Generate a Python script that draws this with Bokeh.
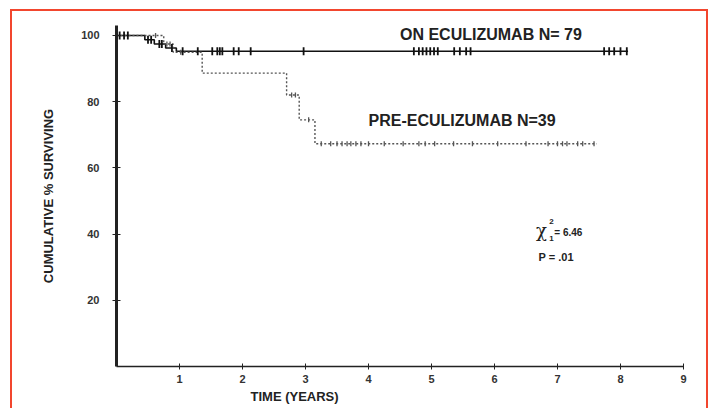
import numpy as np
from bokeh.plotting import figure
from bokeh.models import Range1d, FixedTicker, Label, Title, ColumnDataSource
from bokeh.embed import file_html
from bokeh.resources import INLINE

# ---- data ----
on_times = [0.0, 0.45, 0.60, 0.78, 0.95, 8.12]
on_surv = [100.0, 98.7, 97.4, 96.2, 95.2, 95.2]
on_censor = [0.05, 0.12, 0.18, 0.50, 0.55, 0.68, 0.72, 0.88, 1.05, 1.29, 1.52, 1.60, 1.64, 1.68,
             1.86, 1.94, 2.13, 2.97, 4.72, 4.80, 4.86, 4.92, 4.98, 5.04, 5.10, 5.36, 5.45, 5.55,
             5.62, 7.74, 7.82, 7.90, 8.00, 8.10]

pre_times = [0.0, 0.75, 0.90, 1.36, 2.70, 2.90, 3.15, 7.62]
pre_surv = [100.0, 97.4, 94.9, 88.6, 82.0, 74.5, 67.3, 67.3]
pre_censor = [0.62, 0.80, 0.85, 1.02, 2.78, 2.84, 3.05, 3.25, 3.40, 3.50, 3.58, 3.66, 3.72, 3.80,
              3.88, 4.00, 4.25, 4.55, 4.80, 4.90, 5.05, 5.35, 5.65, 6.05, 6.50, 6.85, 7.00,
              7.08, 7.15, 7.32, 7.40, 7.58]

x_ticks = [1, 2, 3, 4, 5, 6, 7, 8, 9]
y_ticks = [20, 40, 60, 80, 100]


def surv_at(times, surv, t):
    idx = np.searchsorted(np.array(times), np.array(t), side="right") - 1
    return np.array(surv)[idx]


p = figure(width=698, height=399, output_backend="svg", toolbar_location=None,
           x_range=Range1d(0, 9), y_range=Range1d(0, 103),
           min_border_left=104, min_border_right=27, min_border_top=14, min_border_bottom=44,
           styles={"margin-left": "10px", "margin-top": "9px",
                   "border-left": "2px solid #f2462e", "border-top": "2px solid #f2462e",
                   "border-right": "2px solid #f2462e"})
p.xgrid.visible = False
p.ygrid.visible = False
p.outline_line_color = None
p.background_fill_color = "white"
p.border_fill_color = "white"

# curves
p.step(on_times, on_surv, mode="after", line_color="#111111", line_width=1.6)
p.step(pre_times, pre_surv, mode="after", line_color="#555555", line_width=1.4, line_dash="2 2")

on_src = ColumnDataSource(dict(x=on_censor, y=surv_at(on_times, on_surv, on_censor)))
pre_src = ColumnDataSource(dict(x=pre_censor, y=surv_at(pre_times, pre_surv, pre_censor)))
p.scatter("x", "y", source=on_src, marker="dash", angle=np.pi / 2, size=8,
          line_color="#111111", line_width=1.8)
p.scatter("x", "y", source=pre_src, marker="dash", angle=np.pi / 2, size=5,
          line_color="#555555", line_width=1.3)

# axes
for ax in (p.xaxis, p.yaxis):
    ax.minor_tick_line_color = None
    ax.major_label_text_font = "Liberation Sans"
    ax.major_label_text_font_size = "11px"
    ax.major_label_text_color = "#333333"
    ax.major_label_text_font_style = "bold"
    ax.major_tick_line_color = "#222222"

p.xaxis.ticker = FixedTicker(ticks=x_ticks)
p.xaxis.axis_line_width = 1.6
p.xaxis.axis_line_color = "#222222"
p.xaxis.major_tick_in = 3
p.xaxis.major_tick_out = 3
p.xaxis.major_label_standoff = 5

p.yaxis.ticker = FixedTicker(ticks=y_ticks)
p.yaxis.axis_line_width = 3
p.yaxis.axis_line_color = "#222222"
p.yaxis.major_tick_in = 4
p.yaxis.major_tick_out = 4
p.yaxis.major_label_standoff = 13
p.yaxis.axis_label = "CUMULATIVE % SURVIVING"
p.yaxis.axis_label_text_font = "Liberation Sans"
p.yaxis.axis_label_text_font_size = "13px"
p.yaxis.axis_label_text_font_style = "bold"
p.yaxis.axis_label_text_color = "#222222"
p.yaxis.axis_label_standoff = 22

lbl_font = "Liberation Sans"
p.add_layout(Title(text="TIME (YEARS)", align="left", offset=134, standoff=2,
                   text_font=lbl_font, text_font_size="13px", text_font_style="bold",
                   text_color="#222222"), "below")
p.add_layout(Label(x=4.5, y=100.4, text="ON ECULIZUMAB N= 79", text_baseline="middle",
                   text_font=lbl_font, text_font_size="16px", text_font_style="bold",
                   text_color="#222222"))
p.add_layout(Label(x=4.0, y=74.4, text="PRE-ECULIZUMAB N=39", text_baseline="middle",
                   text_font=lbl_font, text_font_size="16px", text_font_style="bold",
                   text_color="#222222"))
p.add_layout(Label(x=6.66, y=41.0, text="χ", text_baseline="middle",
                   text_font="DejaVu Serif", text_font_size="18px",
                   text_color="#222222"))
p.add_layout(Label(x=6.87, y=43.8, text="2", text_baseline="middle",
                   text_font=lbl_font, text_font_size="8px", text_font_style="bold",
                   text_color="#222222"))
p.add_layout(Label(x=6.87, y=38.6, text="1", text_baseline="middle",
                   text_font=lbl_font, text_font_size="8px", text_font_style="bold",
                   text_color="#222222"))
p.add_layout(Label(x=6.95, y=40.4, text="= 6.46", text_baseline="middle",
                   text_font=lbl_font, text_font_size="10px", text_font_style="bold",
                   text_color="#222222"))
p.add_layout(Label(x=6.70, y=33.0, text="P = .01", text_baseline="middle",
                   text_font=lbl_font, text_font_size="11px", text_font_style="bold",
                   text_color="#222222"))

open("out.html", "w").write(file_html(p, INLINE))
